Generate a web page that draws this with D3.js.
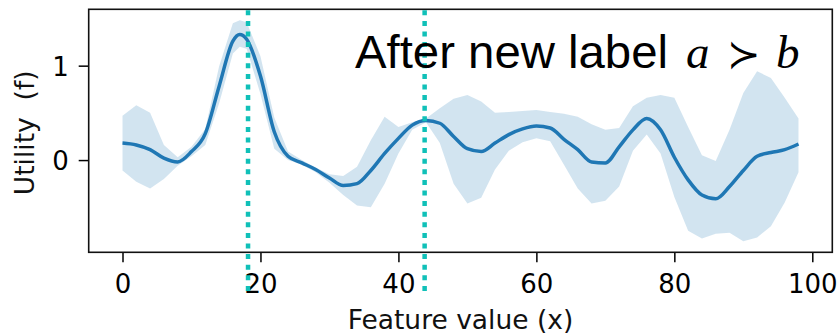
<html>
<head>
<style>
body { margin: 0; background: #fff; }
.tick text { font-family: 'DejaVu Sans', sans-serif; font-size: 26px; fill: #000; }
.axis-label { font-family: 'DejaVu Sans', sans-serif; font-size: 26.5px; fill: #111; }
.title { font-family: 'Liberation Sans', Arial, sans-serif; font-size: 47px; fill: #000; }
.math { font-family: 'Liberation Serif', 'DejaVu Serif', serif; font-style: italic; }
</style>
</head>
<body>
<svg></svg>
<script src="https://d3js.org/d3.v7.min.js"></script>
<script>

const xs    = [0, 2, 4, 6, 8, 10, 12, 14, 16, 17, 18, 20, 22, 24, 26, 28, 30, 32, 34, 36, 38, 40, 42, 44, 46, 48,
               50, 52, 54, 56, 58, 60, 62, 64, 66, 68, 70, 72, 74, 76, 78, 80, 82, 84, 86, 88, 90, 92, 94, 96, 98];
const mean  = [0.18, 0.16, 0.11, 0.02, -0.02, 0.09, 0.28, 0.78, 1.26, 1.33, 1.28, 0.89, 0.30, 0.04, -0.03, -0.10, -0.19, -0.27, -0.25, -0.11, 0.07, 0.23, 0.37, 0.42, 0.39, 0.25,
               0.12, 0.09, 0.18, 0.27, 0.33, 0.36, 0.34, 0.22, 0.11, -0.02, -0.03, 0.14, 0.32, 0.44, 0.32, 0.03, -0.21, -0.37, -0.41, -0.28, -0.11, 0.04, 0.08, 0.11, 0.17];
const lower = [-0.11, -0.23, -0.30, -0.20, -0.06, 0.04, 0.16, 0.60, 1.13, 1.20, 1.18, 0.70, 0.12, 0.00, -0.05, -0.13, -0.24, -0.37, -0.48, -0.50, -0.25, 0.07, 0.32, 0.40, 0.18, -0.25,
               -0.46, -0.40, -0.10, 0.10, 0.19, 0.23, 0.20, -0.05, -0.30, -0.46, -0.43, -0.28, 0.10, 0.27, 0.07, -0.39, -0.75, -0.83, -0.78, -0.77, -0.86, -0.82, -0.70, -0.45, -0.13];
const upper = [0.47, 0.58, 0.50, 0.16, 0.03, 0.14, 0.33, 0.99, 1.45, 1.48, 1.46, 1.10, 0.45, 0.09, 0.00, -0.08, -0.15, -0.17, -0.07, 0.21, 0.46, 0.35, 0.40, 0.44, 0.55, 0.65,
               0.69, 0.62, 0.50, 0.51, 0.52, 0.53, 0.51, 0.49, 0.46, 0.38, 0.32, 0.34, 0.57, 0.66, 0.69, 0.66, 0.35, 0.05, -0.01, 0.32, 0.71, 0.94, 0.87, 0.66, 0.44];
const labelled = [18.2, 43.8];
const xTicks = [0, 20, 40, 60, 80, 100];
const yTicks = [0, 1];

const lineColor = '#1f77b4';
const markColor = '#10c0b8';

const fullWidth = 838;
const fullHeight = 335;
const margin = {top: 9.3, right: 5.7, bottom: 82.7, left: 88.7};
const width = fullWidth - margin.left - margin.right;
const height = fullHeight - margin.top - margin.bottom;

const data = xs.map((x, i) => ({x: x, m: mean[i], lo: lower[i], hi: upper[i]}));

// matplotlib style 5% padding
function padded(min, max) {
    const r = max - min;
    return [min - 0.05 * r, max + 0.05 * r];
}

const x = d3.scaleLinear()
    .domain(padded(d3.min(xs), d3.max(xs)))
    .range([0, width]);

const y = d3.scaleLinear()
    .domain(padded(d3.min(lower), d3.max(upper)))
    .range([height, 0]);

const svg = d3.select('svg')
    .attr('width', fullWidth)
    .attr('height', fullHeight);

const g = svg.append('g')
    .attr('transform', `translate(${margin.left}, ${margin.top})`);

const area = d3.area()
    .x(d => x(d.x))
    .y0(d => y(d.lo))
    .y1(d => y(d.hi));

const line = d3.line()
    .x(d => x(d.x))
    .y(d => y(d.m))
    .curve(d3.curveMonotoneX);

g.append('path')
    .datum(data)
    .attr('fill', lineColor)
    .attr('fill-opacity', 0.2)
    .attr('d', area);

g.append('path')
    .datum(data)
    .attr('fill', 'none')
    .attr('stroke', lineColor)
    .attr('stroke-width', 3.5)
    .attr('stroke-linejoin', 'round')
    .attr('d', line);

// axes
const xAxis = g.append('g')
    .attr('transform', `translate(0, ${height})`)
    .call(d3.axisBottom(x).tickValues(xTicks).tickFormat(d3.format('d')).tickSize(10).tickPadding(12));

const yAxis = g.append('g')
    .call(d3.axisLeft(y).tickValues(yTicks).tickFormat(d3.format('d')).tickSize(10).tickPadding(10));

[xAxis, yAxis].forEach(a => {
    a.select('.domain').remove();
    a.selectAll('.tick line').attr('stroke', '#000').attr('stroke-width', 1.5);
});
yAxis.selectAll('.tick text').attr('dy', '0.36em');

g.append('rect')
    .attr('width', width)
    .attr('height', height)
    .attr('fill', 'none')
    .attr('stroke', '#111')
    .attr('stroke-width', 1.6);

// dotted markers for the labelled points
g.selectAll('.marker').data(labelled)
    .enter().append('line')
        .attr('class', 'marker')
        .attr('x1', d => x(d))
        .attr('x2', d => x(d))
        .attr('y1', 1)
        .attr('y2', height + 41)
        .attr('stroke', markColor)
        .attr('stroke-width', 4.5)
        .attr('stroke-dasharray', '5 5.6');

svg.append('text')
    .attr('class', 'axis-label')
    .attr('x', margin.left + width / 2)
    .attr('y', 328.5)
    .attr('text-anchor', 'middle')
    .text('Feature value (x)');

svg.append('text')
    .attr('class', 'axis-label')
    .attr('transform', `translate(34, ${margin.top + height / 2 + 2}) rotate(-90)`)
    .attr('text-anchor', 'middle')
    .text('Utility\u00a0\u00a0(f)');

const title = svg.append('text')
    .attr('class', 'title')
    .attr('x', 355)
    .attr('y', 68);
title.append('tspan')
    .attr('textLength', 313)
    .attr('lengthAdjust', 'spacingAndGlyphs')
    .text('After new label');
title.append('tspan').attr('class', 'math').attr('x', 686).text('a');
title.append('tspan').attr('x', 727).style('font-family', "'DejaVu Sans', sans-serif").style('font-size', '40px').text('\u227b');
title.append('tspan').attr('class', 'math').attr('x', 776).text('b');

</script>
</body>
</html>
